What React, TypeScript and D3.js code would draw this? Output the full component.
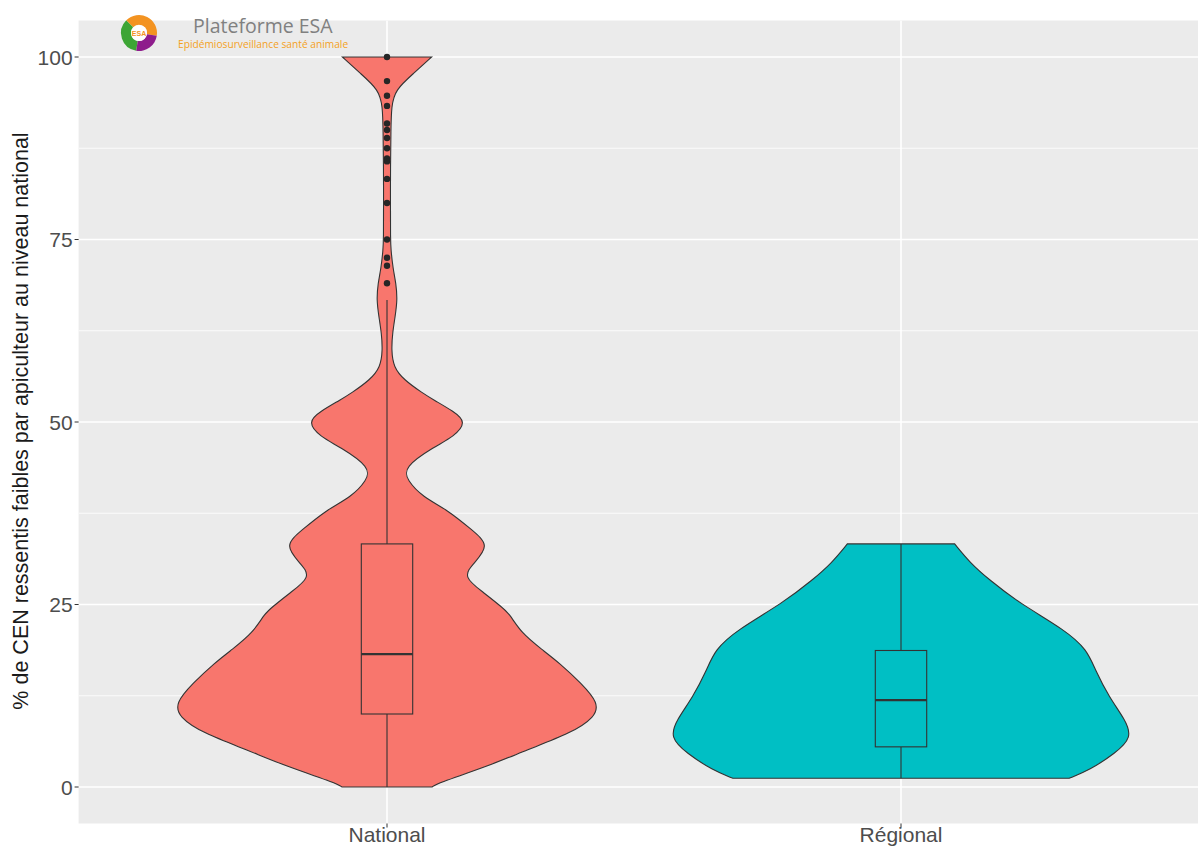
import React from "react";
import * as d3 from "d3";

const categories = ["National", "Régional"];
const fillColors = ["#F8766D", "#00BFC4"];

// Violin density profiles (value -> relative density width)
const nationalDensityValues = [0, 0.5, 2.8, 5.1, 7.4, 9.6, 11.5, 14.2, 17, 18.8, 21.1, 23.8, 24.7, 26.6, 28.8, 30.7, 33.1, 35.2, 38, 39.7, 42, 43.8, 46.6, 48, 50, 51.5, 53, 54, 55.75, 57.5, 59.9, 62.2, 64.4, 66.7, 69, 71, 73.6, 75, 80, 85, 90, 93.2, 95.5, 97.8, 100];
const nationalDensity = [0.195, 0.216, 0.433, 0.606, 0.797, 0.9, 0.915, 0.84, 0.745, 0.671, 0.58, 0.528, 0.494, 0.42, 0.325, 0.377, 0.445, 0.368, 0.26, 0.156, 0.087, 0.072, 0.203, 0.29, 0.345, 0.286, 0.203, 0.152, 0.074, 0.028, 0.019, 0.024, 0.035, 0.045, 0.039, 0.026, 0.017, 0.015, 0.015, 0.015, 0.017, 0.019, 0.035, 0.117, 0.193];

const regionalDensityValues = [1.2, 2.3, 4.6, 6.8, 9.2, 12.3, 16, 18.8, 21.5, 25.2, 28.4, 30.7, 33.3];
const regionalDensity = [0.727, 0.814, 0.926, 1.0, 0.97, 0.9, 0.84, 0.805, 0.71, 0.511, 0.381, 0.299, 0.232];

// Boxplot statistics: [whiskerLow, q1, median, q3, whiskerHigh]
const nationalBox = [0, 10, 18.2, 33.3, 66.7];
const regionalBox = [1.2, 5.5, 11.9, 18.7, 33.3];

// Outliers (National)
const nationalOutliers = [100, 96.7, 94.7, 93.3, 90.9, 90, 88.9, 87.5, 86.1, 85.7, 83.3, 80, 75, 72.5, 71.4, 69];

const yTicks = [0, 25, 50, 75, 100];
const yMinorTicks = [12.5, 37.5, 62.5, 87.5];

const yTitle = "% de CEN ressentis faibles par apiculteur au niveau national";

const W = 1198;
const H = 848;
const panel = { left: 78.6, right: 1209.4, top: 20.5, bottom: 823.5 };

export default function App() {
  const y = d3.scaleLinear().domain([-5, 105]).range([panel.bottom, panel.top]);
  const x = d3.scalePoint<string>().domain(categories).range([panel.left, panel.right]).padding(0.6);
  const step = x.step();
  const maxHalf = 0.45 * step;
  const boxHalf = 0.05 * step;

  const violins = [
    { cat: categories[0], vals: nationalDensityValues, dens: nationalDensity, box: nationalBox, fill: fillColors[0] },
    { cat: categories[1], vals: regionalDensityValues, dens: regionalDensity, box: regionalBox, fill: fillColors[1] },
  ];

  const makeArea = (cx: number) =>
    d3
      .area<[number, number]>()
      .y((d) => y(d[0]))
      .x0((d) => cx - d[1] * maxHalf)
      .x1((d) => cx + d[1] * maxHalf)
      .curve(d3.curveBasis);

  const font = "'Liberation Sans', Arial, sans-serif";
  const lc = "#333333";

  // logo arcs
  const lcx = 139, lcy = 33;
  const arc = d3.arc();
  const logoArcs = [
    { s: -Math.PI * 0.95, e: -Math.PI * 0.25, c: "#3DA535" },
    { s: -Math.PI * 0.25, e: Math.PI * 0.55, c: "#F39321" },
    { s: Math.PI * 0.55, e: Math.PI * 1.05, c: "#8E1C8C" },
  ];

  return (
    <svg width={W} height={H} style={{ position: "absolute", left: 0, top: 0, background: "#fff" }}>
      <defs>
        <clipPath id="pclip">
          <rect x={panel.left} y={panel.top} width={W - panel.left} height={panel.bottom - panel.top} />
        </clipPath>
      </defs>
      <rect x={panel.left} y={panel.top} width={W - panel.left} height={panel.bottom - panel.top} fill="#EBEBEB" />
      <g clipPath="url(#pclip)">
        {yMinorTicks.map((t) => (
          <line key={"m" + t} x1={panel.left} x2={W} y1={y(t)} y2={y(t)} stroke="#fff" strokeWidth={0.8} />
        ))}
        {yTicks.map((t) => (
          <line key={"g" + t} x1={panel.left} x2={W} y1={y(t)} y2={y(t)} stroke="#fff" strokeWidth={1.6} />
        ))}
        {categories.map((c) => (
          <line key={"v" + c} x1={x(c)} x2={x(c)} y1={panel.top} y2={panel.bottom} stroke="#fff" strokeWidth={1.6} />
        ))}
        {violins.map((v) => {
          const cx = x(v.cat) as number;
          const pts: [number, number][] = v.vals.map((val, i) => [val, v.dens[i]]);
          const b = v.box;
          return (
            <g key={v.cat}>
              <path d={makeArea(cx)(pts) || ""} fill={v.fill} stroke={lc} strokeWidth={1.1} />
              <line x1={cx} x2={cx} y1={y(b[0])} y2={y(b[1])} stroke={lc} strokeWidth={1.1} />
              <line x1={cx} x2={cx} y1={y(b[3])} y2={y(b[4])} stroke={lc} strokeWidth={1.1} />
              <rect x={cx - boxHalf} y={y(b[3])} width={boxHalf * 2} height={y(b[1]) - y(b[3])} fill={v.fill} stroke={lc} strokeWidth={1.1} />
              <line x1={cx - boxHalf} x2={cx + boxHalf} y1={y(b[2])} y2={y(b[2])} stroke={lc} strokeWidth={2.2} />
            </g>
          );
        })}
        {nationalOutliers.map((o, i) => (
          <circle key={"o" + i} cx={x(categories[0])} cy={y(o)} r={3.2} fill="#262626" />
        ))}
      </g>
      {/* axes */}
      {yTicks.map((t) => (
        <g key={"yt" + t}>
          <line x1={panel.left - 4} x2={panel.left} y1={y(t)} y2={y(t)} stroke={lc} strokeWidth={1} />
          <text x={panel.left - 6} y={y(t)} dy="0.36em" textAnchor="end" fontFamily={font} fontSize={21} fill="#4D4D4D">
            {t}
          </text>
        </g>
      ))}
      {categories.map((c) => (
        <g key={"xt" + c}>
          <line x1={x(c)} x2={x(c)} y1={panel.bottom} y2={panel.bottom + 4} stroke={lc} strokeWidth={1} />
          <text x={x(c)} y={842} textAnchor="middle" fontFamily={font} fontSize={21} fill="#4D4D4D">
            {c}
          </text>
        </g>
      ))}
      <text
        transform={`translate(28,${421}) rotate(-90)`}
        textAnchor="middle"
        fontFamily={font}
        fontSize={21.5}
        fill="#1A1A1A"
      >
        {yTitle}
      </text>
      {/* logo */}
      <g>
        {logoArcs.map((a, i) => (
          <path
            key={"la" + i}
            transform={`translate(${lcx},${lcy})`}
            d={arc({ innerRadius: 8, outerRadius: 18, startAngle: a.s, endAngle: a.e }) || ""}
            fill={a.c}
          />
        ))}
        <circle cx={lcx} cy={lcy} r={8} fill="#fff" />
        <text x={lcx} y={lcy + 3} textAnchor="middle" fontFamily={font} fontSize={7} fontWeight="bold" fill="#F39321">
          ESA
        </text>
        <text x={193} y={33} fontFamily="'Open Sans', sans-serif" fontSize={19.5} fill="#808080">
          Plateforme ESA
        </text>
        <text x={178} y={48} fontFamily="'Open Sans', sans-serif" fontSize={10.2} fill="#F4A11D">
          Epidémiosurveillance santé animale
        </text>
      </g>
    </svg>
  );
}
